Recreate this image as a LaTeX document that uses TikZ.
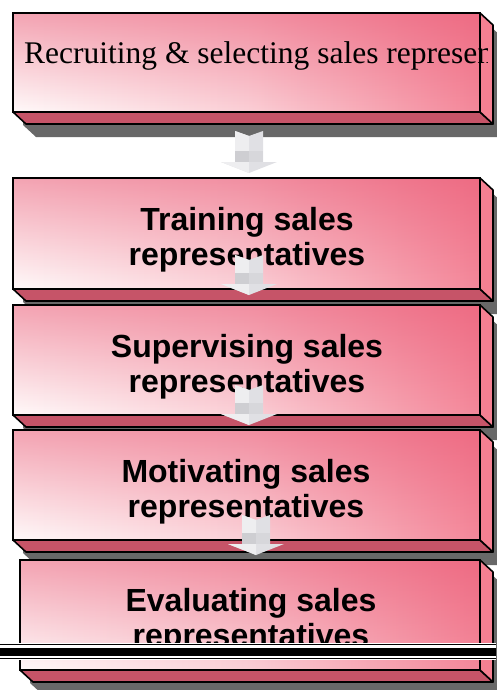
\documentclass[tikz,border=0pt]{standalone}
\usepackage{fontspec}
\setmainfont{Liberation Serif}
\setsansfont{Liberation Sans}
\usetikzlibrary{calc, positioning, fadings}

\tikzfading[name=fade down, top color=transparent!50, bottom color=transparent!100]

% one 3D step box: name, left, top, right, bottom of the front face
\newcommand{\stepbox}[5]{%
  \fill[boxshadow] (#2+10,#3+13) -- (#4+10,#3+13) -- (#4+23,#3+25)
      -- (#4+23,#5+25) -- (#2+23,#5+25) -- (#2+10,#5+13) -- cycle;
  \filldraw[boxbottom] (#2,#5) -- (#4,#5) -- (#4+13,#5+12) -- (#2+13,#5+12) -- cycle;
  \filldraw[boxside] (#4,#3) -- (#4+13,#3+12) -- (#4+13,#5+12) -- (#4,#5) -- cycle;
  \node[boxfront, minimum width=#4-#2, minimum height=#5-#3] (#1) at (#2,#3) {};
  \fill[pinkDeep, path fading=fade down] (#2,#3) rectangle (#4,#5);
  \draw[line width=1.6pt] (#2,#3) rectangle (#4,#5);
}

% grey block arrow from a tail coordinate down to a tip coordinate
\newcommand{\blockarrow}[2]{%
  \fill[arrowbase] ($(#1)+(-14,0)$) -- ($(#1)+(0,5)$) -- ($(#1)+(14,0)$)
      -- ($(#2)+(14,-11)$) -- ($(#2)+(28,-11)$) -- (#2)
      -- ($(#2)+(-28,-11)$) -- ($(#2)+(-14,-11)$) -- cycle;
  \fill[arrowlight] ($(#1)+(-14,0)$) -- ($(#1)+(0,5)$) -- ($(#2)+(0,-22)$)
      -- ($(#2)+(-14,-22)$) -- cycle;
  \fill[arrowdark] ($(#2)+(-14,-22)$) rectangle ($(#2)+(0,-11)$);
  \fill[arrowmid] ($(#2)+(0,-22)$) rectangle ($(#2)+(14,-11)$);
  \fill[arrowlight] ($(#2)+(-28,-11)$) -- ($(#2)+(0,-11)$) -- (#2) -- cycle;
}

\begin{document}
\begin{tikzpicture}[
    x=1pt, y=-1pt,
    boxfront/.style={inner sep=0pt, anchor=north west,
                     left color=pinkPale, right color=pinkMid, middle color=pinkLight},
    boxbottom/.style={fill=pinkBottom, draw=black, line width=1.6pt, line join=round},
    boxside/.style={fill=pinkSide, draw=black, line width=1.6pt, line join=round},
    boxshadow/.style={fill=shadowGray},
    steptext/.style={font=\sffamily\bfseries\fontsize{32}{35}\selectfont,
                     align=center, inner sep=0pt},
    arrowbase/.style={fill=arrowGray},
    arrowlight/.style={fill=arrowGray!55!white},
    arrowmid/.style={fill=arrowGray!96!black},
    arrowdark/.style={fill=arrowGray!92!black},
]

\definecolor{pinkDeep}{RGB}{232,78,108}
\definecolor{pinkMid}{RGB}{244,136,154}
\definecolor{pinkLight}{RGB}{251,208,215}
\definecolor{pinkPale}{RGB}{255,250,250}
\definecolor{pinkBottom}{RGB}{198,84,104}
\definecolor{pinkSide}{RGB}{245,128,146}
\definecolor{shadowGray}{RGB}{104,104,104}
\definecolor{arrowGray}{RGB}{224,224,228}

\useasboundingbox (0,0) rectangle (496,690);

% ============================================================
% STEP BOXES
% ============================================================
\stepbox{recruit}{13}{13}{480}{112}
\begin{scope}
  \clip (13,13) rectangle (487,124);
  \node[font=\fontsize{31.5}{35}\selectfont, anchor=base west, inner sep=0pt]
      (recruitlbl) at (24,64) {Recruiting \& selecting sales represen};
\end{scope}
\draw[line width=1.6pt] (480,13) -- (480,112);

\stepbox{train}{13}{178}{480}{289}
\stepbox{supervise}{13}{305}{480}{415}
\stepbox{motivate}{13}{430}{480}{540}
\stepbox{evaluate}{20}{560}{480}{670}

% ============================================================
% STEP LABELS
% ============================================================
\node[steptext] (trainlbl) at (247,240) {Training sales\\representatives};
\node[steptext] (supervisellbl) at (247,367) {Supervising sales\\representatives};
\node[steptext] (motivatelbl) at (246,492) {Motivating sales\\representatives};
\node[steptext] (evaluatelbl) at (251,621) {Evaluating sales\\representatives};

% ============================================================
% ARROWS BETWEEN STEPS
% ============================================================
\coordinate (a1tail) at (249,131);
\coordinate (a1tip)  at (249,173);
\coordinate (a2tail) at (249,255);
\coordinate (a2tip)  at (249,295);
\coordinate (a3tail) at (249,385);
\coordinate (a3tip)  at (249,425);
\coordinate (a4tail) at (256,515);
\coordinate (a4tip)  at (256,555);

\blockarrow{a1tail}{a1tip}
\blockarrow{a2tail}{a2tip}
\blockarrow{a3tail}{a3tip}
\blockarrow{a4tail}{a4tip}

% ============================================================
% PAGE RULE
% ============================================================
\fill[white] (0,643) rectangle (496,660);
\draw[line width=1pt] (0,644.5) -- (496,644.5);
\fill[black] (0,648) rectangle (496,656);
\draw[line width=1pt] (0,658.5) -- (496,658.5);

\end{tikzpicture}
\end{document}
